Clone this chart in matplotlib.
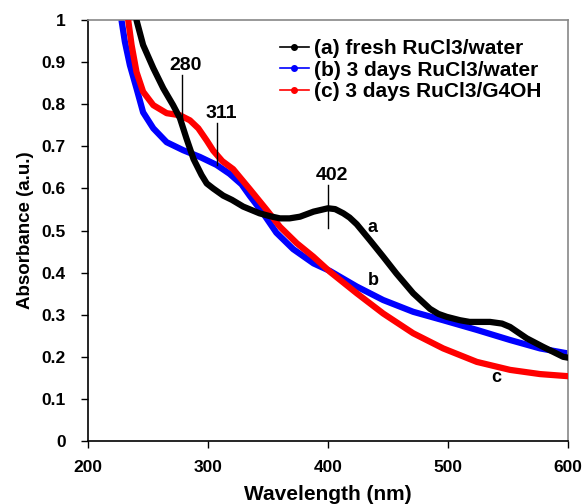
import matplotlib
matplotlib.use("Agg")
import matplotlib.pyplot as plt
from matplotlib.lines import Line2D

plt.rcParams['font.family'] = ['Liberation Sans', 'DejaVu Sans']
plt.rcParams['font.weight'] = 'bold'

# (a) fresh RuCl3/water
wl_a = [240.5, 246, 254.5, 262.8, 271, 276.7, 282, 288, 294.7, 299, 304.4, 312.8, 320, 329.4, 343, 352, 360, 368,
        376.7, 388, 400, 406, 412.8, 418, 424, 435, 446, 457, 471, 485, 492, 499, 510, 518, 535, 545, 551.7, 565.6, 579, 596, 600]
abs_a = [1.0, 0.941, 0.886, 0.838, 0.798, 0.767, 0.72, 0.67, 0.632, 0.612, 0.600, 0.583, 0.573, 0.557, 0.541, 0.534,
         0.529, 0.529, 0.533, 0.545, 0.553, 0.551, 0.541, 0.531, 0.515, 0.477, 0.438, 0.398, 0.351, 0.314, 0.302, 0.295, 0.287,
         0.283, 0.283, 0.279, 0.271, 0.244, 0.224, 0.2, 0.198]
# (b) 3 days RuCl3/water
wl_b = [228, 230.8, 235, 240.5, 246, 254.5, 265.6, 279.4, 293.3, 307.2, 318, 328, 335, 346, 357, 371, 388, 401.7,
        424, 446, 471, 496, 524, 551.7, 576.7, 600]
abs_b = [1.0, 0.949, 0.893, 0.838, 0.781, 0.743, 0.71, 0.691, 0.675, 0.656, 0.635, 0.61, 0.582, 0.541, 0.495, 0.456,
         0.422, 0.404, 0.367, 0.335, 0.307, 0.287, 0.264, 0.24, 0.22, 0.208]
# (c) 3 days RuCl3/G4OH
wl_c = [233.6, 236.4, 240.5, 246, 254.5, 265.6, 276.7, 285, 292, 299, 304.4, 312, 321, 328, 335, 349, 360, 374,
        387.8, 401.7, 424, 446, 471, 496, 524, 551.7, 576.7, 600]
abs_c = [1.0, 0.941, 0.877, 0.83, 0.798, 0.779, 0.774, 0.762, 0.743, 0.714, 0.69, 0.665, 0.646, 0.622, 0.598, 0.549,
         0.509, 0.47, 0.438, 0.402, 0.351, 0.303, 0.256, 0.22, 0.188, 0.169, 0.159, 0.154]

series_labels = ["(a) fresh RuCl3/water", "(b) 3 days RuCl3/water", "(c) 3 days RuCl3/G4OH"]
series_colors = ["black", "#0000ff", "#ff0000"]

peak_labels = ["280", "311", "402"]
peak_x = [278, 307.8, 400]
peak_y0 = [0.767, 0.656, 0.506]
peak_y1 = [0.869, 0.755, 0.608]

curve_letters = ["a", "b", "c"]
letter_x = [437.5, 438, 540]
letter_y = [0.508, 0.382, 0.152]

fig = plt.figure(figsize=(5.82, 5.04), dpi=100)
ax = fig.add_axes([0.151, 0.125, 0.825, 0.835])

kw = dict(lw=4.5, solid_capstyle='round', solid_joinstyle='round')
ax.plot(wl_b, abs_b, color=series_colors[1], zorder=2, **kw)
ax.plot(wl_c, abs_c, color=series_colors[2], zorder=3, **kw)
ax.plot(wl_a, abs_a, color=series_colors[0], zorder=4, **kw)

for lab, px, y0, y1 in zip(peak_labels, peak_x, peak_y0, peak_y1):
    ax.plot([px, px], [y0, y1], color='black', lw=1, zorder=5)
    ax.text(px + 3, y1 + 0.003, lab, ha='center', va='bottom', fontsize=14, fontweight='bold')

for lt, lx, ly in zip(curve_letters, letter_x, letter_y):
    ax.text(lx, ly, lt, ha='center', va='center', fontsize=13, fontweight='bold')

ax.set_xlim(200, 600)
ax.set_ylim(0, 1)
ax.set_xticks([200, 300, 400, 500, 600])
ax.set_yticks([0, 0.1, 0.2, 0.3, 0.4, 0.5, 0.6, 0.7, 0.8, 0.9, 1.0])
ax.set_yticklabels(["0", "0.1", "0.2", "0.3", "0.4", "0.5", "0.6", "0.7", "0.8", "0.9", "1"])
ax.tick_params(direction='out', length=5, width=1, labelsize=12.5)
ax.tick_params(axis='x', pad=9)
ax.tick_params(axis='y', pad=11)
for t in ax.get_xticklabels() + ax.get_yticklabels():
    t.set_fontweight('bold')
ax.set_xlabel("Wavelength (nm)", fontsize=15, fontweight='bold', labelpad=7)
ax.set_ylabel("Absorbance (a.u.)", fontsize=13.5, fontweight='bold', labelpad=5)

ax.spines['left'].set_color('black')
ax.spines['bottom'].set_color('black')
ax.spines['top'].set_color('#888888')
ax.spines['right'].set_color('#888888')
for s in ax.spines.values():
    s.set_linewidth(1.2)

handles = [Line2D([0], [0], color=c, lw=1.2, marker='o', ms=4) for c in series_colors]
leg = ax.legend(handles, series_labels, loc='upper right', frameon=False,
                prop={'size': 15, 'weight': 'bold'}, handlelength=1.4,
                handletextpad=0.25, labelspacing=0.13, borderaxespad=0.3,
                bbox_to_anchor=(0.975, 0.99))

fig.savefig("out.png", dpi=100)
